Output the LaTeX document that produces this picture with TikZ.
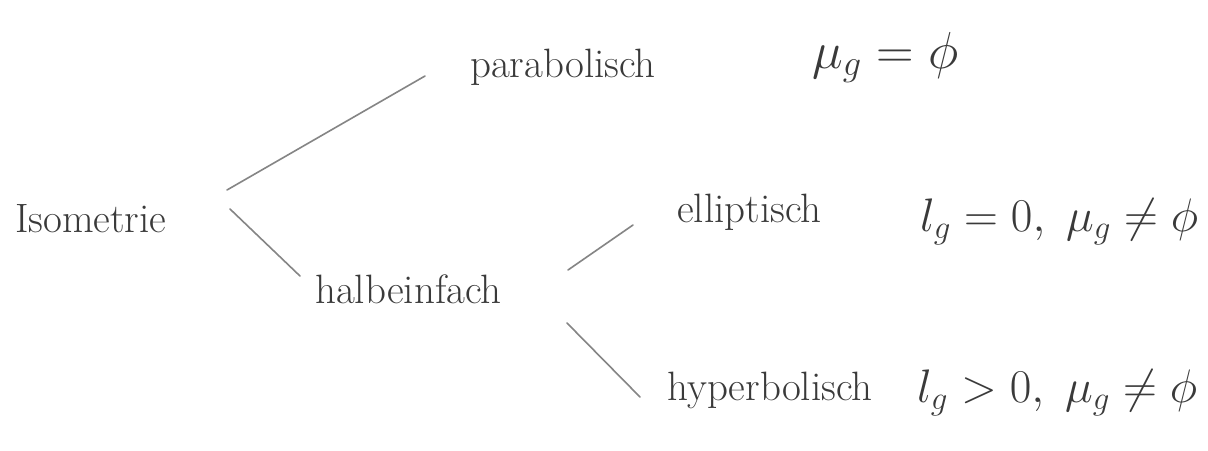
\RequirePackage{fix-cm}
\documentclass[tikz,border=0pt]{standalone}
\usetikzlibrary{calc}
\definecolor{ink}{HTML}{3A3A3A}
\definecolor{pencil}{HTML}{858585}
\begin{document}
\begin{tikzpicture}[x=1pt,y=-1pt,
  lbl/.style={anchor=base west,inner sep=0pt,text=ink,font=\fontsize{41}{48}\selectfont},
  mth/.style={anchor=base west,inner sep=0pt,text=ink,font=\fontsize{47}{54}\selectfont},
  conn/.style={draw=pencil,line width=1.6pt,line cap=round}]
\useasboundingbox[fill=white] (0,0) rectangle (1208,450);
\node[lbl] (iso) at (15,232) {Isometrie};
\node[lbl] (para) at (470,77) {parabolisch};
\node[mth,font=\fontsize{52}{60}\selectfont] (mpara) at (812,68) {$\mu_g=\phi$};
\node[lbl] (halb) at (315,303) {halbeinfach};
\node[lbl] (ell) at (677,222) {elliptisch};
\node[mth] (mell) at (920,231) {$l_g=0,\;\mu_g\neq\phi$};
\node[lbl] (hyp) at (667,400) {hyperbolisch};
\node[mth] (mhyp) at (917,402) {$l_g>0,\;\mu_g\neq\phi$};
\draw[conn] ($(iso.base west)+(212,-42)$) -- ($(para.base west)+(-45,-1)$);
\draw[conn] ($(iso.base west)+(215,-23)$) -- ($(halb.base west)+(-15,-27)$);
\draw[conn] ($(halb.base west)+(253,-33)$) -- ($(ell.base west)+(-44,3)$);
\draw[conn] ($(halb.base west)+(252,20)$) -- ($(hyp.base west)+(-27,-3)$);
\end{tikzpicture}
\end{document}
